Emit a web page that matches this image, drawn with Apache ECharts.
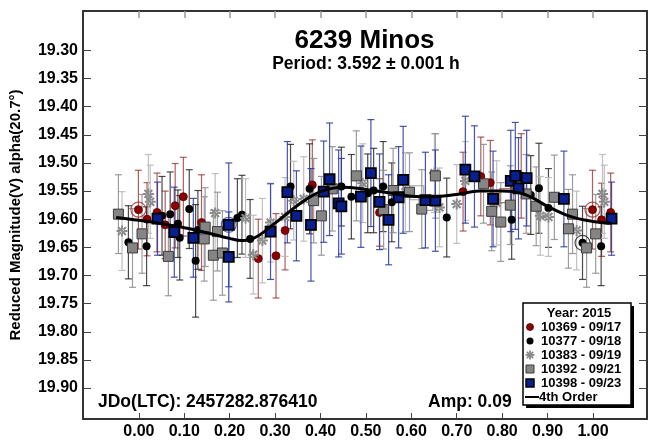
<!DOCTYPE html>
<html>
<head>
<meta charset="utf-8">
<script src="https://cdn.jsdelivr.net/npm/echarts@6/dist/echarts.min.js"></script>
<style>
  html, body { margin: 0; padding: 0; background: #fff; }
  #chart { width: 648px; height: 440px; }
</style>
</head>
<body>
<div id="chart"></div>
<script>
// Phase-folded lightcurve of (6239) Minos, 2015 sessions.

const xTicks = [0.0, 0.1, 0.2, 0.3, 0.4, 0.5, 0.6, 0.7, 0.8, 0.9, 1.0];
const yTicks = [19.30, 19.35, 19.40, 19.45, 19.50, 19.55, 19.60, 19.65, 19.70, 19.75, 19.80, 19.85, 19.90];

// Session 10369 - 09/17
const s10369Phase = [-0.001, 0.018, 0.040, 0.058, 0.080, 0.098, 0.138, 0.263, 0.302, 0.322, 0.382, 0.530, 0.714, 0.753, 0.774, 0.842, 0.999, 1.019, 1.039];
const s10369Mag   = [19.583, 19.600, 19.588, 19.610, 19.576, 19.560, 19.606, 19.670, 19.665, 19.620, 19.539, 19.588, 19.551, 19.524, 19.535, 19.523, 19.583, 19.601, 19.588];
const s10369Err   = [0.070, 0.065, 0.070, 0.060, 0.075, 0.070, 0.085, 0.070, 0.075, 0.070, 0.080, 0.060, 0.070, 0.070, 0.075, 0.075, 0.070, 0.065, 0.070];

// Session 10377 - 09/18
const s10377Phase = [-0.023, 0.017, 0.051, 0.069, 0.086, 0.090, 0.111, 0.125, 0.130, 0.217, 0.227, 0.245, 0.334, 0.376, 0.446, 0.468, 0.504, 0.517, 0.538, 0.557, 0.678, 0.821, 0.863, 0.881, 0.902, 0.977, 1.018];
const s10377Mag   = [19.641, 19.648, 19.594, 19.591, 19.608, 19.633, 19.582, 19.674, 19.619, 19.598, 19.592, 19.635, 19.542, 19.546, 19.542, 19.560, 19.554, 19.549, 19.542, 19.570, 19.597, 19.601, 19.557, 19.545, 19.580, 19.642, 19.648];
const s10377Err   = [0.065, 0.070, 0.070, 0.075, 0.060, 0.075, 0.070, 0.100, 0.070, 0.070, 0.070, 0.070, 0.075, 0.080, 0.070, 0.075, 0.070, 0.075, 0.080, 0.070, 0.070, 0.070, 0.070, 0.080, 0.070, 0.065, 0.070];

// Session 10383 - 09/19
const s10383Phase = [-0.037, 0.021, 0.025, 0.168, 0.235, 0.252, 0.272, 0.290, 0.322, 0.341, 0.363, 0.493, 0.587, 0.651, 0.662, 0.700, 0.719, 0.788, 0.884, 0.902, 0.964, 1.021, 1.025];
const s10383Mag   = [19.621, 19.555, 19.569, 19.589, 19.598, 19.663, 19.638, 19.606, 19.596, 19.567, 19.564, 19.536, 19.552, 19.518, 19.579, 19.573, 19.532, 19.571, 19.594, 19.596, 19.620, 19.555, 19.569];
const s10383Err   = [0.070, 0.070, 0.065, 0.070, 0.070, 0.070, 0.075, 0.070, 0.070, 0.070, 0.075, 0.070, 0.070, 0.070, 0.070, 0.070, 0.070, 0.075, 0.070, 0.070, 0.070, 0.070, 0.065];

// Session 10392 - 09/21
const s10392Phase = [-0.045, -0.014, 0.007, 0.065, 0.144, 0.146, 0.164, 0.173, 0.184, 0.385, 0.402, 0.426, 0.479, 0.539, 0.560, 0.596, 0.623, 0.653, 0.759, 0.777, 0.797, 0.818, 0.853, 0.875, 0.915, 0.946, 0.955, 0.986, 1.006];
const s10392Mag   = [19.591, 19.651, 19.626, 19.666, 19.635, 19.614, 19.664, 19.622, 19.660, 19.567, 19.594, 19.546, 19.523, 19.583, 19.549, 19.552, 19.582, 19.523, 19.537, 19.586, 19.605, 19.575, 19.555, 19.577, 19.561, 19.617, 19.591, 19.651, 19.626];
const s10392Err   = [0.070, 0.070, 0.070, 0.070, 0.075, 0.070, 0.080, 0.070, 0.075, 0.075, 0.070, 0.075, 0.080, 0.070, 0.075, 0.070, 0.070, 0.075, 0.070, 0.070, 0.070, 0.070, 0.070, 0.070, 0.075, 0.070, 0.070, 0.070, 0.070];

// Session 10398 - 09/23
const s10398Phase = [0.041, 0.078, 0.120, 0.198, 0.198, 0.290, 0.327, 0.347, 0.379, 0.407, 0.420, 0.440, 0.446, 0.489, 0.511, 0.530, 0.550, 0.572, 0.582, 0.631, 0.653, 0.719, 0.739, 0.780, 0.819, 0.829, 0.836, 0.854, 0.936, 1.041];
const s10398Mag   = [19.599, 19.623, 19.633, 19.610, 19.667, 19.622, 19.552, 19.594, 19.610, 19.551, 19.529, 19.572, 19.577, 19.560, 19.518, 19.569, 19.601, 19.561, 19.530, 19.566, 19.567, 19.512, 19.524, 19.564, 19.532, 19.523, 19.545, 19.527, 19.564, 19.599];
const s10398Err   = [0.065, 0.080, 0.070, 0.110, 0.080, 0.085, 0.090, 0.080, 0.100, 0.090, 0.100, 0.095, 0.085, 0.090, 0.095, 0.085, 0.080, 0.090, 0.095, 0.085, 0.090, 0.095, 0.090, 0.085, 0.090, 0.095, 0.090, 0.085, 0.085, 0.065];

// Hollow markers flagging the first point of each session
const startCirclePhase = [-0.001, 0.999, 0.977, 0.198];
const startCircleMag   = [19.583, 19.583, 19.642, 19.610];
const startCircleColor = ['#a03030', '#a03030', '#222222', '#3040a0'];
const startBoxPhase = [0.612, 0.632, 0.810];
const startBoxMag   = [19.553, 19.572, 19.558];
const startBoxColor = ['#8a8a8a', '#8a8a8a', '#b05050'];

// 4th order Fourier fit, sampled along phase
const fitPhase = [-0.05, 0.00, 0.05, 0.10, 0.15, 0.20, 0.225, 0.25, 0.30, 0.35, 0.40, 0.45, 0.50, 0.55, 0.60, 0.65, 0.70, 0.75, 0.80, 0.85, 0.90, 0.95, 1.00, 1.04];
const fitMag   = [19.597, 19.602, 19.608, 19.615, 19.624, 19.634, 19.638, 19.635, 19.607, 19.575, 19.551, 19.543, 19.547, 19.553, 19.559, 19.560, 19.556, 19.550, 19.550, 19.556, 19.577, 19.595, 19.604, 19.607];

const FONT = 'Arial, "Liberation Sans", sans-serif';

// Filled eight-armed asterisk used for session 10383
const ASTERISK = 'path://M-5,-0.9L5,-0.9L5,0.9L-5,0.9Z M-0.9,-5L0.9,-5L0.9,5L-0.9,5Z ' +
  'M-2.9,-4.2L4.2,2.9L2.9,4.2L-4.2,-2.9Z M-2.9,4.2L4.2,-2.9L2.9,-4.2L-4.2,2.9Z';

function errorBars(name, phase, mag, err, color) {
  return {
    type: 'custom',
    name: name + ' err',
    silent: true,
    z: 2,
    clip: true,
    data: phase.map((p, i) => [p, mag[i] - err[i], mag[i] + err[i]]),
    encode: { x: 0, y: [1, 2] },
    renderItem(params, api) {
      const x = api.value(0);
      const a = api.coord([x, api.value(1)]);
      const b = api.coord([x, api.value(2)]);
      const hw = 3.5;
      const st = { stroke: color, lineWidth: 1.2 };
      return {
        type: 'group',
        children: [
          { type: 'line', shape: { x1: a[0], y1: a[1], x2: b[0], y2: b[1] }, style: st },
          { type: 'line', shape: { x1: a[0] - hw, y1: a[1], x2: a[0] + hw, y2: a[1] }, style: st },
          { type: 'line', shape: { x1: b[0] - hw, y1: b[1], x2: b[0] + hw, y2: b[1] }, style: st }
        ]
      };
    }
  };
}

function points(name, phase, mag, symbol, size, color, border, bw) {
  return {
    type: 'scatter',
    name,
    z: 5,
    symbol,
    symbolSize: size,
    data: phase.map((p, i) => [p, mag[i]]),
    itemStyle: { color, borderColor: border, borderWidth: bw, opacity: 1 }
  };
}

function hollow(name, phase, mag, colors, symbol, size) {
  return {
    type: 'scatter',
    name,
    z: 4,
    symbol,
    symbolSize: size,
    silent: true,
    data: phase.map((p, i) => ({ value: [p, mag[i]], itemStyle: { borderColor: colors[i] } })),
    itemStyle: { color: 'rgba(0,0,0,0)', borderWidth: 1.2 }
  };
}

const sessions = [
  { name: '10369 - 09/17', ph: s10369Phase, mg: s10369Mag, er: s10369Err, bar: 'rgba(150,40,40,0.75)', sym: 'circle', size: 8, col: '#8b0000', bc: '#5a0000', bw: 0.8 },
  { name: '10377 - 09/18', ph: s10377Phase, mg: s10377Mag, er: s10377Err, bar: 'rgba(30,30,30,0.8)', sym: 'circle', size: 8, col: '#000000', bc: '#000000', bw: 0 },
  { name: '10383 - 09/19', ph: s10383Phase, mg: s10383Mag, er: s10383Err, bar: 'rgba(185,185,185,0.9)', sym: ASTERISK, size: 11, col: '#8a8a8a', bc: '#8a8a8a', bw: 0 },
  { name: '10392 - 09/21', ph: s10392Phase, mg: s10392Mag, er: s10392Err, bar: 'rgba(140,140,140,0.85)', sym: 'rect', size: 10, col: '#858585', bc: '#3a3a3a', bw: 1 },
  { name: '10398 - 09/23', ph: s10398Phase, mg: s10398Mag, er: s10398Err, bar: 'rgba(40,55,160,0.85)', sym: 'rect', size: 10, col: '#0a1f8f', bc: '#000000', bw: 1.8 }
];

const series = [];
sessions.forEach(s => series.push(errorBars(s.name, s.ph, s.mg, s.er, s.bar)));
series.push(hollow('start circles', startCirclePhase, startCircleMag, startCircleColor, 'circle', 15));
series.push(hollow('start boxes', startBoxPhase, startBoxMag, startBoxColor, 'rect', 14));
sessions.forEach(s => series.push(points(s.name, s.ph, s.mg, s.sym, s.size, s.col, s.bc, s.bw)));
series.push({
  type: 'line',
  name: '4th Order',
  z: 8,
  smooth: 0.4,
  showSymbol: false,
  data: fitPhase.map((p, i) => [p, fitMag[i]]),
  lineStyle: { color: '#000', width: 3 }
});

const XMIN = -0.123, XMAX = 1.119, YMIN = 19.23, YMAX = 19.955;
const frame = { show: true, onZero: false, lineStyle: { color: '#333', width: 2 } };
const tickLabel = { fontFamily: FONT, fontWeight: 'bold', fontSize: 16, color: '#000' };

// Legend box
const LX = 523, LY = 303, LW = 108, LH = 102;
const legendRows = [327, 341, 355, 369, 383, 397];
const legendTexts = ['10369 - 09/17', '10377 - 09/18', '10383 - 09/19', '10392 - 09/21', '10398 - 09/23', '4th Order'];
const AX = 530, AY = legendRows[2], AR = 4.5;
const starArm = { stroke: '#8a8a8a', lineWidth: 1.8 };
const legendGraphics = [
  { type: 'rect', shape: { x: LX + 3, y: LY + 3, width: LW, height: LH }, style: { fill: '#000' }, z: 20 },
  { type: 'rect', shape: { x: LX, y: LY, width: LW, height: LH }, style: { fill: '#fff', stroke: '#000', lineWidth: 1.5 }, z: 21 },
  { type: 'text', x: LX + LW / 2 + 2, y: 313, z: 22, style: { text: 'Year: 2015', fontFamily: FONT, fontWeight: 'bold', fontSize: 13, fill: '#000', align: 'center', verticalAlign: 'middle' } },
  { type: 'circle', shape: { cx: 530, cy: legendRows[0], r: 3.5 }, style: { fill: '#8b0000', stroke: '#5a0000', lineWidth: 0.8 }, z: 22 },
  { type: 'circle', shape: { cx: 530, cy: legendRows[1], r: 3.5 }, style: { fill: '#000' }, z: 22 },
  { type: 'line', shape: { x1: AX - AR, y1: AY, x2: AX + AR, y2: AY }, style: starArm, z: 22 },
  { type: 'line', shape: { x1: AX, y1: AY - AR, x2: AX, y2: AY + AR }, style: starArm, z: 22 },
  { type: 'line', shape: { x1: AX - 3.2, y1: AY - 3.2, x2: AX + 3.2, y2: AY + 3.2 }, style: starArm, z: 22 },
  { type: 'line', shape: { x1: AX - 3.2, y1: AY + 3.2, x2: AX + 3.2, y2: AY - 3.2 }, style: starArm, z: 22 },
  { type: 'rect', shape: { x: 526, y: legendRows[3] - 4, width: 8, height: 8 }, style: { fill: '#858585', stroke: '#3a3a3a', lineWidth: 1 }, z: 22 },
  { type: 'rect', shape: { x: 526, y: legendRows[4] - 4, width: 8, height: 8 }, style: { fill: '#0a1f8f', stroke: '#000', lineWidth: 1.5 }, z: 22 },
  { type: 'line', shape: { x1: 525, y1: legendRows[5], x2: 539, y2: legendRows[5] }, style: { stroke: '#000', lineWidth: 2 }, z: 22 }
];
legendTexts.forEach((t, i) => {
  legendGraphics.push({
    type: 'text', x: i < 5 ? 541 : 539, y: legendRows[i], z: 22,
    style: { text: t, fontFamily: FONT, fontWeight: 'bold', fontSize: 13, fill: '#000', align: 'left', verticalAlign: 'middle' }
  });
});

const chart = echarts.init(document.getElementById('chart'), null, { renderer: 'canvas' });
chart.setOption({
  animation: false,
  backgroundColor: '#fff',
  grid: { left: 82, top: 11, right: 1, bottom: 19, containLabel: false },
  xAxis: [
    {
      type: 'value', position: 'bottom', min: XMIN, max: XMAX,
      axisLine: frame,
      axisTick: { show: true, inside: true, length: 6, customValues: xTicks, lineStyle: { color: '#444', width: 1 } },
      axisLabel: Object.assign({ customValues: xTicks, margin: 5, formatter: v => v.toFixed(2) }, tickLabel),
      splitLine: { show: false }
    },
    {
      type: 'value', position: 'top', min: XMIN, max: XMAX,
      axisLine: frame,
      axisTick: { show: true, inside: true, length: 7, customValues: xTicks, lineStyle: { color: '#999', width: 1.5 } },
      axisLabel: { show: false },
      splitLine: { show: false }
    }
  ],
  yAxis: [
    {
      type: 'value', position: 'left', inverse: true, min: YMIN, max: YMAX,
      axisLine: frame,
      axisTick: { show: true, inside: true, length: 8, customValues: yTicks, lineStyle: { color: '#444', width: 1 } },
      axisLabel: Object.assign({ customValues: yTicks, margin: 5, formatter: v => v.toFixed(2) }, tickLabel),
      splitLine: { show: false },
      name: 'Reduced Magnitude(V) alpha(20.7°)',
      nameLocation: 'middle',
      nameGap: 60,
      nameTextStyle: { fontFamily: FONT, fontWeight: 'bold', fontSize: 15, color: '#000' }
    },
    {
      type: 'value', position: 'right', inverse: true, min: YMIN, max: YMAX,
      axisLine: frame,
      axisTick: { show: true, inside: true, length: 8, customValues: yTicks, lineStyle: { color: '#444', width: 1 } },
      axisLabel: { show: false },
      splitLine: { show: false }
    }
  ],
  series,
  graphic: [
    { type: 'text', x: 364.5, y: 41, z: 30, style: { text: '6239 Minos', fontFamily: FONT, fontWeight: 'bold', fontSize: 26, fill: '#000', align: 'center', verticalAlign: 'middle' } },
    { type: 'text', x: 366, y: 64, z: 30, style: { text: 'Period: 3.592 ± 0.001 h', fontFamily: FONT, fontWeight: 'bold', fontSize: 17.5, fill: '#000', align: 'center', verticalAlign: 'middle' } },
    { type: 'text', x: 98, y: 402, z: 30, style: { text: 'JDo(LTC): 2457282.876410', fontFamily: FONT, fontWeight: 'bold', fontSize: 17.5, fill: '#000', align: 'left', verticalAlign: 'middle' } },
    { type: 'text', x: 428, y: 402, z: 30, style: { text: 'Amp: 0.09', fontFamily: FONT, fontWeight: 'bold', fontSize: 17.5, fill: '#000', align: 'left', verticalAlign: 'middle' } }
  ].concat(legendGraphics)
});
</script>
</body>
</html>
